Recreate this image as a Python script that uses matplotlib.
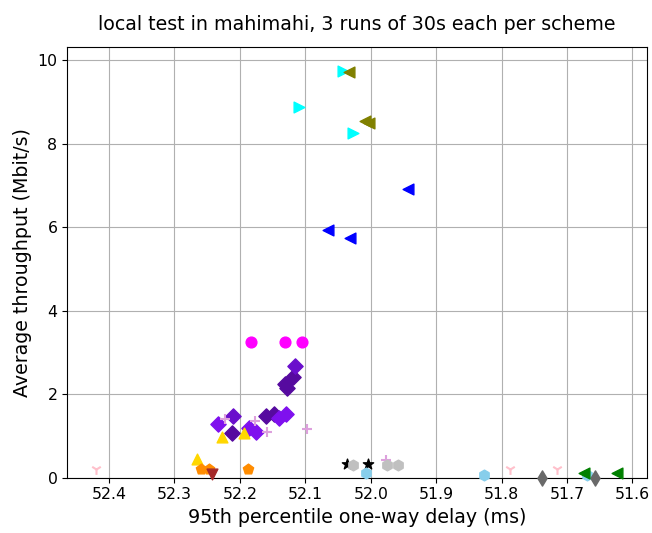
import matplotlib
matplotlib.use("Agg")
import matplotlib.pyplot as plt

# delay (ms), throughput (Mbit/s) per scheme, 3 runs each (some overlap)
cyan_delay = [52.1095, 52.0274, 52.0418]
cyan_tput = [8.87, 8.245, 9.74]
olive_delay = [52.033, 52.008, 52.003]
olive_tput = [9.73, 8.54, 8.49]
blue_delay = [51.9424, 52.0647, 52.0315]
blue_tput = [6.905, 5.93, 5.73]
magenta_delay = [52.1829, 52.1313, 52.1044]
magenta_tput = [3.24, 3.26, 3.24]

indigo_delay = [52.1182, 52.1309, 52.1274, 52.1477, 52.1604, 52.2115]
indigo_tput = [2.42, 2.236, 2.14, 1.518, 1.477, 1.063]
violet_delay = [52.1156, 52.2099]
violet_tput = [2.674, 1.477]
bviolet_delay = [52.2338, 52.1396, 52.1298, 52.1855, 52.1752]
bviolet_tput = [1.286, 1.436, 1.518, 1.183, 1.087]

plum_delay = [52.2226, 52.1768, 52.1589, 52.0977, 51.9765]
plum_tput = [1.405, 1.357, 1.087, 1.159, 0.42]
gold_delay = [52.2268, 52.265, 52.1931]
gold_tput = [0.98, 0.44, 1.06]
orange_delay = [52.2598, 52.2471, 52.1879]
orange_tput = [0.20, 0.20, 0.20]
brown_delay = [52.243]
brown_tput = [0.08]
pink_delay = [52.4203, 51.7869, 51.7145]
pink_tput = [0.20, 0.20, 0.20]
star_delay = [52.0366, 52.0035]
star_tput = [0.32, 0.32]
silver_delay = [52.0265, 51.9754, 51.9586]
silver_tput = [0.29, 0.29, 0.29]
sky_delay = [52.007, 51.8266, 51.6687]
sky_tput = [0.12, 0.065, 0.065]
gray_delay = [51.7379, 51.6569]
gray_tput = [0.0, 0.0]
green_delay = [51.6737, 51.6228]
green_tput = [0.12, 0.12]

series = [
    (cyan_delay, cyan_tput, '>', 'cyan'),
    (olive_delay, olive_tput, '<', 'olive'),
    (blue_delay, blue_tput, '<', 'blue'),
    (magenta_delay, magenta_tput, 'o', 'magenta'),
    (indigo_delay, indigo_tput, 'D', '#560a9f'),
    (violet_delay, violet_tput, 'D', '#6a0fcc'),
    (bviolet_delay, bviolet_tput, 'D', '#7f10ee'),
    (plum_delay, plum_tput, '+', 'plum'),
    (gold_delay, gold_tput, '^', 'gold'),
    (orange_delay, orange_tput, 'p', 'darkorange'),
    (brown_delay, brown_tput, 'v', 'brown'),
    (pink_delay, pink_tput, '1', 'pink'),
    (star_delay, star_tput, '*', 'black'),
    (silver_delay, silver_tput, 'h', 'silver'),
    (sky_delay, sky_tput, 'h', 'skyblue'),
    (gray_delay, gray_tput, 'd', 'dimgray'),
    (green_delay, green_tput, '<', 'green'),
]

fig, ax = plt.subplots(figsize=(6.52, 5.33), dpi=100)
fig.subplots_adjust(left=0.103, right=0.992, top=0.912, bottom=0.104)

for d, t, m, c in series:
    ax.scatter(d, t, marker=m, color=c, s=60, clip_on=False, zorder=3)

ax.set_xlim(52.464, 51.578)
ax.set_ylim(0, 10.32)
ax.grid(True)
ax.tick_params(labelsize=11.3)
ax.set_xlabel("95th percentile one-way delay (ms)", fontsize=13.7)
ax.set_ylabel("Average throughput (Mbit/s)", fontsize=13.7)
ax.set_title("local test in mahimahi, 3 runs of 30s each per scheme", fontsize=13.7, pad=12.5)

plt.savefig("out.png", dpi=100)
